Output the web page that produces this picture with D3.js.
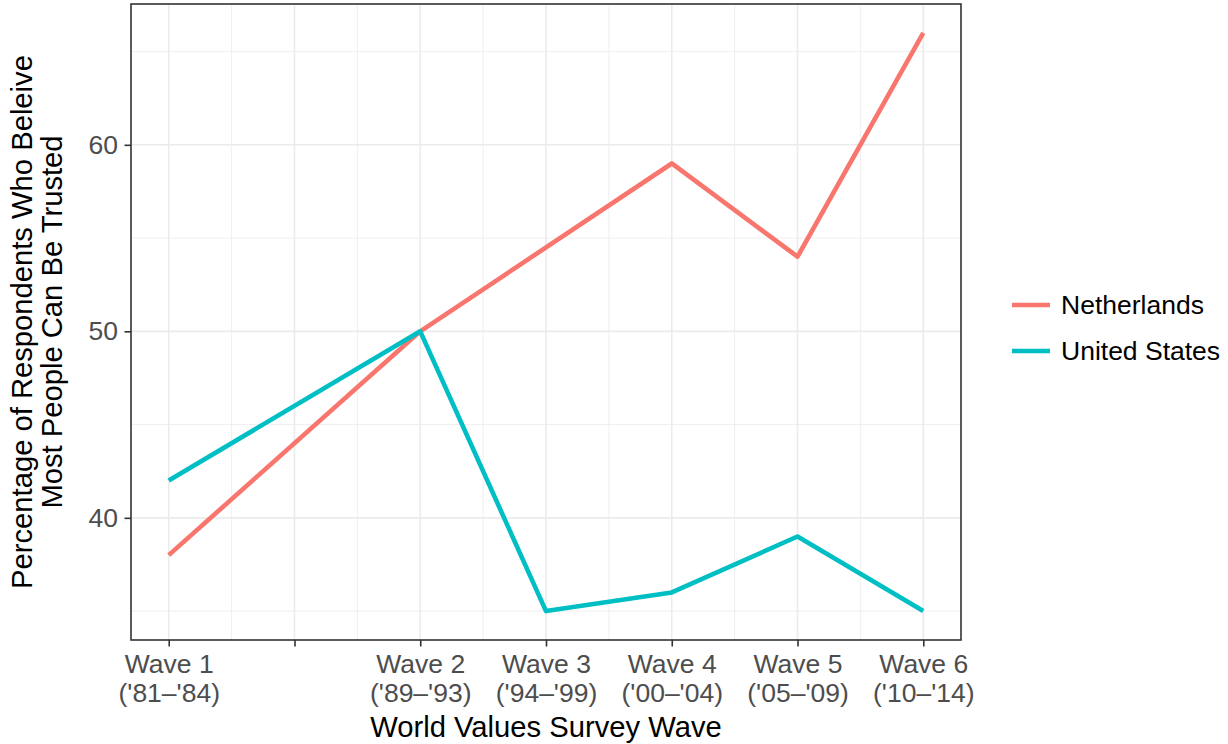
<!DOCTYPE html>
<html><head><meta charset="utf-8">
<script src="https://cdn.jsdelivr.net/npm/d3@7"></script>
<style>
body{margin:0;background:#fff;}
svg{display:block;font-family:"Liberation Sans",Arial,Helvetica,sans-serif;}
</style></head>
<body><svg id="c" width="1228" height="744"></svg>
<script>
// Data
const waves = [1, 3, 4, 5, 6, 7];
const netherlands = [38, 50, null, 59, 54, 66];
const unitedStates = [42, 50, 35, 36, 39, 35];
const seriesNames = ["Netherlands", "United States"];
const seriesColors = ["#F8766D", "#00BFC4"];
const xTickValues = [1, 2, 3, 4, 5, 6, 7];
const xTickLine1 = ["Wave 1", "", "Wave 2", "Wave 3", "Wave 4", "Wave 5", "Wave 6"];
const xTickLine2 = ["('81\u2013'84)", "", "('89\u2013'93)", "('94\u2013'99)", "('00\u2013'04)", "('05\u2013'09)", "('10\u2013'14)"];
const yTickValues = [40, 50, 60];
const yMinor = [35, 45, 55, 65];
const xMinor = [1.5, 2.5, 3.5, 4.5, 5.5, 6.5];

const svg = d3.select("#c");
const L = 131, R = 961, T = 4, B = 640;
const x = d3.scaleLinear().domain([0.7, 7.3]).range([L, R]);
const y = d3.scaleLinear().domain([33.45, 67.55]).range([B, T]);

const g = svg.append("g");
// minor grid
g.selectAll(".mx").data(xMinor).enter().append("line")
  .attr("x1", d => x(d)).attr("x2", d => x(d)).attr("y1", T).attr("y2", B)
  .attr("stroke", "#EBEBEB").attr("stroke-width", 0.8);
g.selectAll(".my").data(yMinor).enter().append("line")
  .attr("y1", d => y(d)).attr("y2", d => y(d)).attr("x1", L).attr("x2", R)
  .attr("stroke", "#EBEBEB").attr("stroke-width", 0.8);
// major grid
g.selectAll(".Mx").data(xTickValues).enter().append("line")
  .attr("x1", d => x(d)).attr("x2", d => x(d)).attr("y1", T).attr("y2", B)
  .attr("stroke", "#EBEBEB").attr("stroke-width", 1.6);
g.selectAll(".My").data(yTickValues).enter().append("line")
  .attr("y1", d => y(d)).attr("y2", d => y(d)).attr("x1", L).attr("x2", R)
  .attr("stroke", "#EBEBEB").attr("stroke-width", 1.6);

// lines
const allSeries = [netherlands, unitedStates];
const line = d3.line().x(d => x(d[0])).y(d => y(d[1]));
allSeries.forEach((vals, i) => {
  const pts = waves.map((w, j) => [w, vals[j]]).filter(p => p[1] !== null);
  svg.append("path").datum(pts).attr("d", line)
    .attr("fill", "none").attr("stroke", seriesColors[i])
    .attr("stroke-width", 4.6).attr("stroke-linejoin", "round").attr("stroke-linecap", "butt");
});

// panel border
svg.append("rect").attr("x", L).attr("y", T).attr("width", R - L).attr("height", B - T)
  .attr("fill", "none").attr("stroke", "#333333").attr("stroke-width", 1.6);

// x axis
const xa = svg.append("g").attr("transform", `translate(0,${B})`)
  .call(d3.axisBottom(x).tickValues(xTickValues).tickSize(6.5).tickPadding(4).tickFormat(() => ""));
xa.select(".domain").remove();
xa.selectAll(".tick line").attr("stroke", "#333333").attr("stroke-width", 1.6);
xa.selectAll(".tick").each(function(d, i) {
  const sel = d3.select(this);
  sel.select("text").remove();
  sel.append("text").attr("fill", "#4D4D4D").attr("font-size", 26.5)
    .attr("text-anchor", "middle").attr("x", 0).attr("y", 33).text(xTickLine1[i]);
  sel.append("text").attr("fill", "#4D4D4D").attr("font-size", 26.5)
    .attr("text-anchor", "middle").attr("x", 0).attr("y", 61.5).text(xTickLine2[i]);
});

// y axis
const ya = svg.append("g").attr("transform", `translate(${L},0)`)
  .call(d3.axisLeft(y).tickValues(yTickValues).tickSize(6.5).tickPadding(6.5));
ya.select(".domain").remove();
ya.selectAll(".tick line").attr("stroke", "#333333").attr("stroke-width", 1.6);
ya.selectAll(".tick text").attr("fill", "#4D4D4D").attr("font-size", 26.5).attr("font-family", "Liberation Sans, Arial, sans-serif");

// axis titles
svg.append("text").attr("x", (L + R) / 2).attr("y", 737).attr("text-anchor", "middle")
  .attr("font-size", 29.2).attr("fill", "#000").text("World Values Survey Wave");
const yt = svg.append("text").attr("transform", `translate(0,${(T + B) / 2}) rotate(-90)`)
  .attr("text-anchor", "middle").attr("font-size", 29.2).attr("fill", "#000");
yt.append("tspan").attr("x", 0).attr("y", 32).text("Percentage of Respondents Who Beleive");
yt.append("tspan").attr("x", 0).attr("y", 62).text("Most People Can Be Trusted");

// legend
const lg = svg.append("g");
seriesNames.forEach((n, i) => {
  const cy = 305 + i * 46;
  lg.append("line").attr("x1", 1012).attr("x2", 1050).attr("y1", cy).attr("y2", cy)
    .attr("stroke", seriesColors[i]).attr("stroke-width", 4.6);
  lg.append("text").attr("x", 1061).attr("y", cy).attr("dy", "0.35em")
    .attr("font-size", 26.5).attr("fill", "#000").text(n);
});
</script></body></html>
